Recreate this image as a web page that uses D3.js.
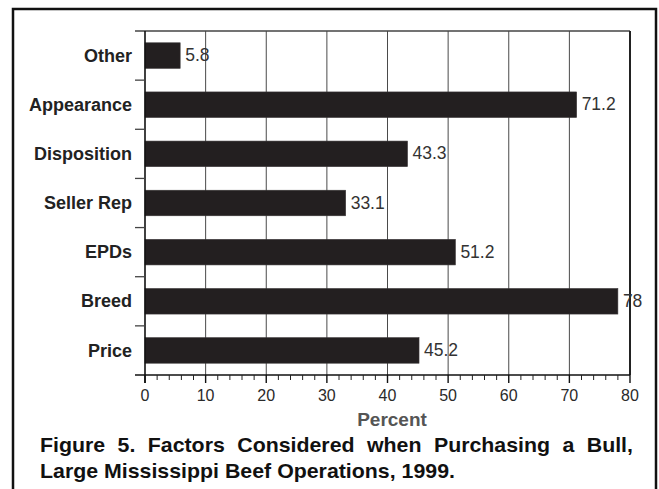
<!DOCTYPE html>
<html>
<head>
<meta charset="utf-8">
<script src="https://d3js.org/d3.v7.min.js"></script>
<style>
  html, body { margin: 0; padding: 0; background: #fff; }
  svg { display: block; font-family: "Liberation Sans", Arial, Helvetica, sans-serif; }
</style>
</head>
<body>
<svg id="chart" width="659" height="489"></svg>
<script>
// Factors considered when purchasing a bull (percent of operations)
const categories = ["Other", "Appearance", "Disposition", "Seller Rep", "EPDs", "Breed", "Price"];
const percentValues = [5.8, 71.2, 43.3, 33.1, 51.2, 78, 45.2];
const valueLabels = ["5.8", "71.2", "43.3", "33.1", "51.2", "78", "45.2"];
const xTicks = [0, 10, 20, 30, 40, 50, 60, 70, 80];
const xMinorTicks = d3.range(0, 81, 2);
const axisTitle = "Percent";
const captionLines = [
  "Figure 5. Factors Considered when Purchasing a Bull,",
  "Large Mississippi Beef Operations, 1999."
];

const svg = d3.select("#chart");
const plot = { left: 145, right: 630, top: 31, bottom: 375 };

const x = d3.scaleLinear().domain([0, 80]).range([plot.left, plot.right]);
const y = d3.scaleBand().domain(categories).range([plot.top, plot.bottom]).padding(0);
const barFrac = 0.52;

// Outer frame (open at the bottom edge)
svg.append("rect")
  .attr("x", 13).attr("y", 9)
  .attr("width", 643).attr("height", 520)
  .attr("fill", "none").attr("stroke", "#111").attr("stroke-width", 2.5);

// Vertical gridlines
svg.append("g").selectAll("line")
  .data(xTicks.filter(d => d > 0 && d < 80))
  .join("line")
  .attr("x1", d => x(d)).attr("x2", d => x(d))
  .attr("y1", plot.top).attr("y2", plot.bottom)
  .attr("stroke", "#4a4a4a").attr("stroke-width", 1);

// Plot frame: top and right edges
svg.append("line")
  .attr("x1", plot.left - 10).attr("x2", plot.right)
  .attr("y1", plot.top).attr("y2", plot.top)
  .attr("stroke", "#444").attr("stroke-width", 1.3);
svg.append("line")
  .attr("x1", plot.right).attr("x2", plot.right)
  .attr("y1", plot.top).attr("y2", plot.bottom)
  .attr("stroke", "#222").attr("stroke-width", 2);

// Bars
svg.append("g").selectAll("rect")
  .data(categories)
  .join("rect")
  .attr("x", x(0))
  .attr("y", d => y(d) + y.bandwidth() * (1 - barFrac) / 2)
  .attr("width", (d, i) => x(percentValues[i]) - x(0))
  .attr("height", y.bandwidth() * barFrac)
  .attr("fill", "#231f20")
  .attr("stroke", "#3a3637").attr("stroke-width", 0.6);

// Value labels
svg.append("g").selectAll("text")
  .data(categories)
  .join("text")
  .attr("x", (d, i) => x(percentValues[i]) + 5)
  .attr("y", d => y(d) + y.bandwidth() / 2)
  .attr("dy", "0.32em")
  .attr("font-size", 17.5)
  .attr("fill", "#333")
  .text((d, i) => valueLabels[i]);

// Category axis (left)
const yAxis = svg.append("g");
yAxis.append("line")
  .attr("x1", plot.left).attr("x2", plot.left)
  .attr("y1", plot.top).attr("y2", plot.bottom + 8)
  .attr("stroke", "#111").attr("stroke-width", 1.6);
yAxis.selectAll("line.tick")
  .data(categories.slice(1))
  .join("line")
  .attr("class", "tick")
  .attr("x1", plot.left - 10).attr("x2", plot.left)
  .attr("y1", d => y(d)).attr("y2", d => y(d))
  .attr("stroke", "#444").attr("stroke-width", 1.3);
yAxis.selectAll("text")
  .data(categories)
  .join("text")
  .attr("x", plot.left - 13)
  .attr("y", d => y(d) + y.bandwidth() / 2)
  .attr("dy", "0.34em")
  .attr("text-anchor", "end")
  .attr("font-size", 18)
  .attr("font-weight", "bold")
  .attr("fill", "#222")
  .text(d => d);

// Value axis (bottom)
const xAxis = svg.append("g");
xAxis.append("line")
  .attr("x1", plot.left - 10).attr("x2", plot.right)
  .attr("y1", plot.bottom).attr("y2", plot.bottom)
  .attr("stroke", "#111").attr("stroke-width", 1.6);
xAxis.selectAll("line.minor")
  .data(xMinorTicks.filter(d => d % 10 !== 0))
  .join("line")
  .attr("class", "minor")
  .attr("x1", d => x(d)).attr("x2", d => x(d))
  .attr("y1", plot.bottom).attr("y2", plot.bottom + 5)
  .attr("stroke", "#222").attr("stroke-width", 1);
xAxis.selectAll("line.major")
  .data(xTicks)
  .join("line")
  .attr("class", "major")
  .attr("x1", d => x(d)).attr("x2", d => x(d))
  .attr("y1", plot.bottom).attr("y2", plot.bottom + 8)
  .attr("stroke", "#111").attr("stroke-width", 1.4);
xAxis.selectAll("text")
  .data(xTicks)
  .join("text")
  .attr("x", d => x(d))
  .attr("y", 400.5)
  .attr("text-anchor", "middle")
  .attr("font-size", 16)
  .attr("fill", "#2a2a2a")
  .text(d => d);

svg.append("text")
  .attr("x", 392)
  .attr("y", 426)
  .attr("text-anchor", "middle")
  .attr("font-size", 19)
  .attr("font-weight", "bold")
  .attr("fill", "#555")
  .text(axisTitle);

// Caption: set in a slightly widened bold face; first line justified
const capLeft = 40, capRight = 633, capLastRight = 455;
const capFont = 19.5;
function makeWords(str, baseline) {
  const g = svg.append("g");
  const words = str.split(" ");
  const nodes = words.map(w => g.append("text")
    .attr("font-size", capFont)
    .attr("font-weight", "bold")
    .attr("fill", "#111")
    .text(w));
  const widths = nodes.map(n => n.node().getComputedTextLength());
  return { nodes, widths, baseline };
}
const line1 = makeWords(captionLines[0], 451.5);
const line2 = makeWords(captionLines[1], 477.5);
const spaceW = capFont * 0.278;
const line2Natural = d3.sum(line2.widths) + spaceW * (line2.widths.length - 1);
const sx = (capLastRight - capLeft) / line2Natural;
function placeLine(line, gap) {
  let cx = capLeft;
  line.nodes.forEach((n, i) => {
    n.attr("transform", `translate(${cx},${line.baseline}) scale(${sx},1)`);
    cx += line.widths[i] * sx + gap;
  });
}
placeLine(line2, spaceW * sx);
const gap1 = (capRight - capLeft - d3.sum(line1.widths) * sx) / (line1.widths.length - 1);
placeLine(line1, gap1);
</script>
</body>
</html>
